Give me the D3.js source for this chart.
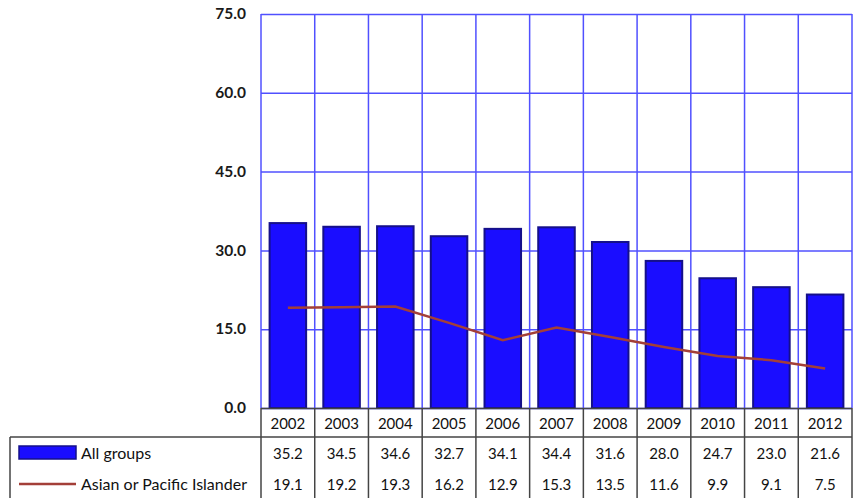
<!DOCTYPE html>
<html><head><meta charset="utf-8">
<script src="https://cdn.jsdelivr.net/npm/d3@7"></script>
<style>body{margin:0;background:#fff}svg{display:block}</style>
</head><body>
<script>
const years = ["2002","2003","2004","2005","2006","2007","2008","2009","2010","2011","2012"];
const allGroups = [35.2,34.5,34.6,32.7,34.1,34.4,31.6,28.0,24.7,23.0,21.6];
const asianPI = [19.1,19.2,19.3,16.2,12.9,15.3,13.5,11.6,9.9,9.1,7.5];
const yTicks = [0,15,30,45,60,75];
const seriesNames = ["All groups","Asian or Pacific Islander"];

const W=853,H=498;
const L=261,R=852,T=14,B=408;
const svg=d3.select("body").append("svg").attr("width",W).attr("height",H)
  .style("font-family","Lato, 'Open Sans', sans-serif");
const x=d3.scaleBand().domain(years).range([L,R]).paddingInner(0).paddingOuter(0);
const y=d3.scaleLinear().domain([0,75]).range([B,T]);
const grid="#5050ff";
svg.append("g").selectAll("line.h").data(yTicks).join("line")
  .attr("x1",L).attr("x2",R).attr("y1",d=>y(d)+0.5).attr("y2",d=>y(d)+0.5)
  .attr("stroke",grid).attr("stroke-width",1.5);
svg.append("g").selectAll("line.v").data(years.concat(["end"])).join("line")
  .attr("x1",(d,i)=>i<years.length?x(d):R).attr("x2",(d,i)=>i<years.length?x(d):R)
  .attr("y1",T).attr("y2",B).attr("stroke",grid).attr("stroke-width",1.5);
const ax=d3.axisLeft(y).tickValues(yTicks).tickFormat(d3.format(".1f")).tickSize(0).tickPadding(15);
const ag=svg.append("g").attr("transform",`translate(${L},0)`).call(ax);
ag.select(".domain").remove();
ag.selectAll("text").attr("font-size",15.5).attr("font-weight","bold").attr("fill","#1a1a1a")
  .attr("font-family","Lato, 'Open Sans', sans-serif").attr("dy","0.3em");
const bw=x.bandwidth()*0.68;
svg.append("g").selectAll("rect").data(allGroups).join("rect")
  .attr("x",(d,i)=>x(years[i])+(x.bandwidth()-bw)/2).attr("width",bw)
  .attr("y",d=>y(d)).attr("height",d=>B-y(d))
  .attr("fill","#1a0dff").attr("stroke","#15108a").attr("stroke-width",2);
const line=d3.line().x((d,i)=>x(years[i])+x.bandwidth()/2).y(d=>y(d));
svg.append("path").datum(asianPI).attr("d",line).attr("fill","none")
  .attr("stroke","#a33f38").attr("stroke-width",2.5);
const tb="#444";
svg.append("line").attr("x1",L).attr("x2",R).attr("y1",B+0.5).attr("y2",B+0.5).attr("stroke",tb).attr("stroke-width",1.5);
svg.append("line").attr("x1",10).attr("x2",R).attr("y1",437).attr("y2",437).attr("stroke",tb).attr("stroke-width",1.5);
svg.append("line").attr("x1",10).attr("x2",10).attr("y1",437).attr("y2",H).attr("stroke",tb).attr("stroke-width",1.5);
svg.append("g").selectAll("line").data(years.concat(["end"])).join("line")
  .attr("x1",(d,i)=>i<years.length?x(d):R).attr("x2",(d,i)=>i<years.length?x(d):R)
  .attr("y1",B).attr("y2",H).attr("stroke",tb).attr("stroke-width",1.5);
const tf={"font-size":15,"fill":"#111","text-anchor":"middle"};
function applyAttrs(s,o){for(const k in o)s.attr(k,o[k]);return s;}
applyAttrs(svg.append("g").selectAll("text").data(years).join("text")
  .attr("x",d=>x(d)+x.bandwidth()/2).attr("y",429).text(d=>d),tf);
applyAttrs(svg.append("g").selectAll("text").data(allGroups).join("text")
  .attr("x",(d,i)=>x(years[i])+x.bandwidth()/2).attr("y",459).text(d=>d.toFixed(1)),tf);
applyAttrs(svg.append("g").selectAll("text").data(asianPI).join("text")
  .attr("x",(d,i)=>x(years[i])+x.bandwidth()/2).attr("y",490).text(d=>d.toFixed(1)),tf);
svg.append("rect").attr("x",19).attr("y",446).attr("width",57).attr("height",13)
  .attr("fill","#1a0dff").attr("stroke","#15108a").attr("stroke-width",1.5);
svg.append("line").attr("x1",19).attr("x2",76).attr("y1",484).attr("y2",484)
  .attr("stroke","#a33f38").attr("stroke-width",2.5);
svg.append("text").attr("x",81).attr("y",459).attr("font-size",16).attr("fill","#111").text(seriesNames[0]);
svg.append("text").attr("x",81).attr("y",490).attr("font-size",16).attr("fill","#111").text(seriesNames[1]);
</script>
</body></html>
